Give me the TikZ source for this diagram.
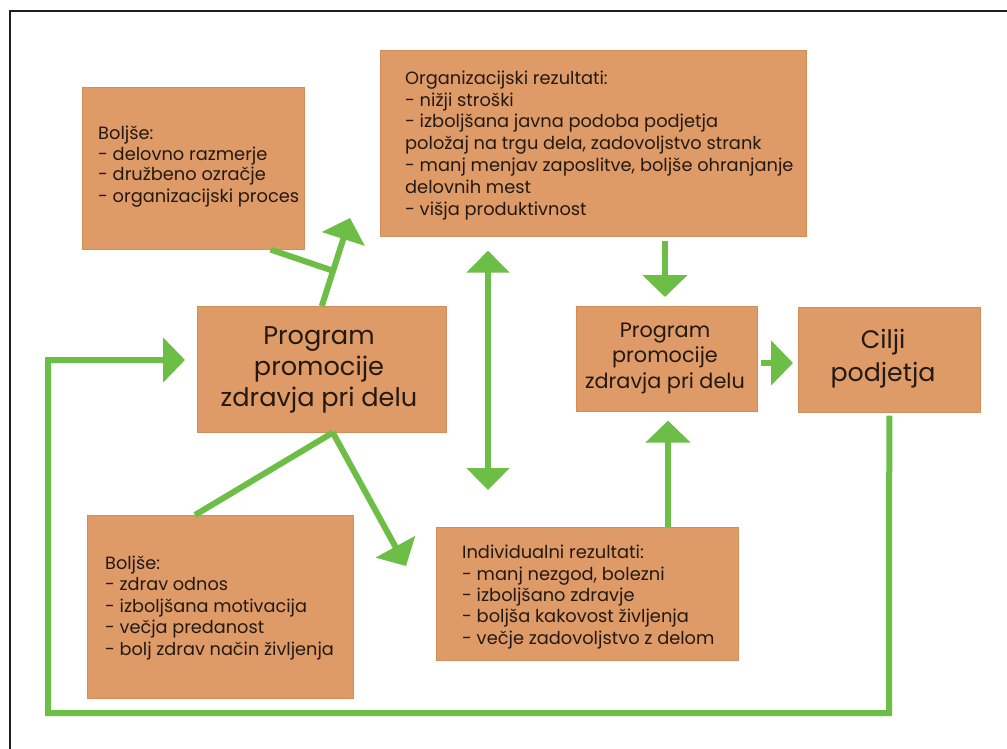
\documentclass[tikz,border=0pt]{standalone}
\usepackage{fontspec}
\setmainfont{Poppins}
\usetikzlibrary{arrows.meta,calc}
\definecolor{boxfill}{HTML}{DF9B67}
\definecolor{boxedge}{HTML}{D38D59}
\definecolor{arrowgreen}{HTML}{6DBE46}
\definecolor{inktext}{HTML}{231912}
\definecolor{framegray}{HTML}{1E1E1E}

\begin{document}
\begin{tikzpicture}[x=1pt,y=-1pt,
  box/.style={draw=boxedge, line width=0.6pt, fill=boxfill, inner sep=0pt, anchor=north west},
  txt/.style={inner sep=0pt, text=inktext},
  % multi-line nodes: the base anchor sits on the last line
  listtxt/.style={txt, anchor=base west, align=left},
  titletxt/.style={txt, anchor=base, align=center},
  conn/.style={draw=arrowgreen, line width=6pt},
  arr/.style={conn, -{Triangle[length=22pt,width=44pt]}},
  darr/.style={conn, {Triangle[length=22pt,width=42pt]}-{Triangle[length=22pt,width=42pt]}},
]
\useasboundingbox (0,0) rectangle (1007,749);
\fill[white] (0,0) rectangle (1007,749);

% outer frame (top and left edges)
\draw[framegray, line width=2.5pt] (10,749) -- (10,11) -- (1007,11);

% boxes
\node[box, minimum width=222pt, minimum height=162pt] (A) at (82,87) {};
\node[box, minimum width=426pt, minimum height=186pt] (B) at (380,50) {};
\node[box, minimum width=249pt, minimum height=126pt] (C) at (197,306) {};
\node[box, minimum width=266pt, minimum height=183pt] (D) at (87,515) {};
\node[box, minimum width=302pt, minimum height=133pt] (E) at (436,527) {};
\node[box, minimum width=181pt, minimum height=105pt] (P) at (576,306) {};
\node[box, minimum width=182pt, minimum height=105pt] (G) at (798,307) {};

% helper coordinates
\coordinate (cbTip) at (350,218);
\coordinate (ceTip) at (406,566);
\coordinate (cFoot) at ($(C.south)+(11,0)$);
\coordinate (jA) at ($(C.north)!0.4!(cbTip)$);
\coordinate (dx) at (488,0);
\coordinate (bx) at (665,0);
\coordinate (ex) at (668,0);
\coordinate (py) at (0,363);
\coordinate (lpR) at (889,713);
\coordinate (lpL) at (48,713);
\coordinate (lpT) at (48,360);

% connectors around the first programme box
\draw[arr] (C.north) -- (cbTip);
\draw[conn] ($(A.south east)+(-34,0)$) -- (jA);
\draw[conn] (cFoot) -- ($(D.north west)+(108,0)$);
\draw[arr] (cFoot) -- (ceTip);

% results and goals
\draw[darr, shorten <=14pt, shorten >=37pt] (B.south -| dx) -- (E.north -| dx);
\draw[arr, shorten <=4pt, shorten >=9pt] (B.south -| bx) -- (P.north -| bx);
\draw[arr, shorten >=9pt] (E.north -| ex) -- (P.south -| ex);
\draw[arr, shorten <=3pt, shorten >=5pt] (P.east |- py) -- (G.west |- py);

% feedback loop back to the programme
\draw[arr, shorten <=3pt, shorten >=12pt] (G.south) -- (lpR) -- (lpL) -- (lpT) -- (lpT -| C.west);

% box texts
\node[listtxt, font=\fontsize{17.8}{21}\selectfont] (At) at (98,202)
  {Boljše:\\- delovno razmerje\\- družbeno ozračje\\- organizacijski proces};
\node[listtxt, font=\fontsize{17.8}{21.8}\selectfont] (Bt) at (405,215)
  {Organizacijski rezultati:\\- nižji stroški\\- izboljšana javna podoba podjetja\\položaj na trgu dela, zadovoljstvo strank\\- manj menjav zaposlitve, boljše ohranjanje\\delovnih mest\\- višja produktivnost};
\node[titletxt, font=\fontsize{25.6}{31}\selectfont] (Ct) at (319,406)
  {Program\\promocije\\zdravja pri delu};
\node[listtxt, font=\fontsize{17.7}{21.5}\selectfont] (Dt) at (105,655)
  {Boljše:\\- zdrav odnos\\- izboljšana motivacija\\- večja predanost\\- bolj zdrav način življenja};
\node[listtxt, font=\fontsize{17.8}{21.3}\selectfont] (Et) at (462,644)
  {Individualni rezultati:\\- manj nezgod, bolezni\\- izboljšano zdravje\\- boljša kakovost življenja\\- večje zadovoljstvo z delom};
\node[titletxt, font=\fontsize{20.8}{25.5}\selectfont] (Pt) at (665,388)
  {Program\\promocije\\zdravja pri delu};
\node[titletxt, font=\fontsize{25.3}{33}\selectfont] (Gt) at (883,381)
  {Cilji\\podjetja};
\end{tikzpicture}
\end{document}
